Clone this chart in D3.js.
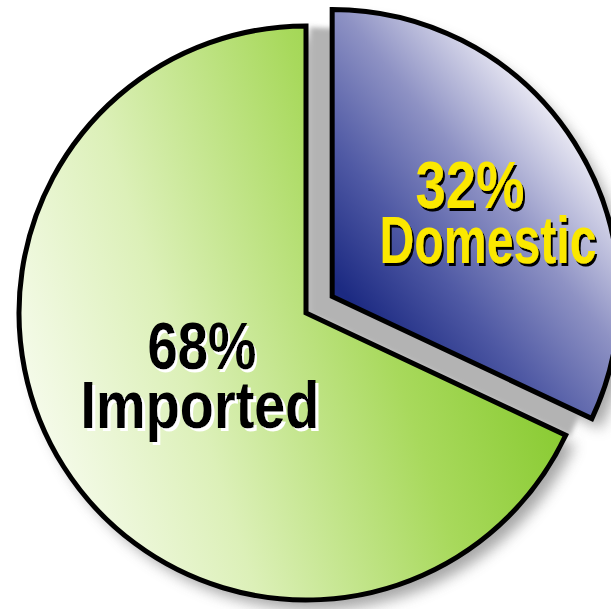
<!DOCTYPE html>
<html>
<head>
<meta charset="utf-8">
<script src="https://cdn.jsdelivr.net/npm/d3@7"></script>
<style>
  html, body { margin: 0; padding: 0; background: #fff; }
  svg { display: block; }
</style>
</head>
<body>
<div id="chart"></div>
<script>
const categories = ["Domestic", "Imported"];
const values = [32, 68];
const pctLabels = ["32%", "68%"];

const width = 611, height = 609;
const cx = 306, cy = 313, radius = 287;
const explode = 31;

const svg = d3.select("#chart").append("svg")
  .attr("width", width)
  .attr("height", height);

const defs = svg.append("defs");

const pie = d3.pie().sort(null).value(d => d);
const arcs = pie(values);
const arc = d3.arc().innerRadius(0).outerRadius(radius);

function offset(d, i) {
  if (i !== 0) return [0, 0];
  const a = (d.startAngle + d.endAngle) / 2;
  return [Math.sin(a) * explode, -Math.cos(a) * explode];
}

const [bx, by] = offset(arcs[0], 0);

// gradients are given in page pixels, then moved into each slice's own frame
function gradient(id, ox, oy, p1, p2, stops) {
  const g = defs.append("linearGradient")
    .attr("id", id)
    .attr("gradientUnits", "userSpaceOnUse")
    .attr("x1", p1[0] - ox).attr("y1", p1[1] - oy)
    .attr("x2", p2[0] - ox).attr("y2", p2[1] - oy);
  stops.forEach(([o, c]) => g.append("stop").attr("offset", o).attr("stop-color", c));
}

gradient("grad-green", cx, cy, [20, 430], [570, 250], [
  ["0%", "#f8fcf0"], ["30%", "#dcf0b8"], ["65%", "#a8d95c"], ["100%", "#7cc520"]
]);
gradient("grad-blue", cx + bx, cy + by, [350, 300], [570, 120], [
  ["0%", "#1c2a82"], ["30%", "#4f59a4"], ["62%", "#8e92c4"], ["100%", "#f0eff7"]
]);

const blurSoft = defs.append("filter").attr("id", "blur-soft")
  .attr("x", "-20%").attr("y", "-20%").attr("width", "140%").attr("height", "140%");
blurSoft.append("feGaussianBlur").attr("stdDeviation", 7);

const blurHard = defs.append("filter").attr("id", "blur-hard")
  .attr("x", "-20%").attr("y", "-20%").attr("width", "140%").attr("height", "140%");
blurHard.append("feGaussianBlur").attr("stdDeviation", 2.5);

function textShadow(id, color) {
  const f = defs.append("filter").attr("id", id)
    .attr("x", "-10%").attr("y", "-20%").attr("width", "120%").attr("height", "140%");
  f.append("feFlood").attr("flood-color", color).attr("result", "c");
  f.append("feComposite").attr("in", "c").attr("in2", "SourceAlpha").attr("operator", "in").attr("result", "s");
  f.append("feOffset").attr("in", "s").attr("dx", 3).attr("dy", 3).attr("result", "o");
  const m = f.append("feMerge");
  m.append("feMergeNode").attr("in", "o");
  m.append("feMergeNode").attr("in", "SourceGraphic");
}
textShadow("shadow-black", "#000");
textShadow("shadow-white", "#fff");

const fills = ["url(#grad-blue)", "url(#grad-green)"];

const root = svg.append("g").attr("transform", `translate(${cx},${cy})`);

// soft outer shadow
root.append("g")
  .selectAll("path")
  .data(arcs)
  .join("path")
  .attr("d", arc)
  .attr("transform", (d, i) => {
    const [ox, oy] = offset(d, i);
    return `translate(${ox + 9},${oy + 10})`;
  })
  .attr("fill", "#8a8a8a")
  .attr("opacity", 0.75)
  .attr("filter", "url(#blur-soft)");

// depth shadow of the exploded slice, seen in the gap
root.append("path")
  .datum(arcs[0])
  .attr("d", arc)
  .attr("transform", `translate(${bx - 22},${by + 18})`)
  .attr("fill", "#b3b3b3")
  .attr("filter", "url(#blur-hard)");

root.append("g")
  .selectAll("path")
  .data(arcs)
  .join("path")
  .attr("d", arc)
  .attr("transform", (d, i) => {
    const [ox, oy] = offset(d, i);
    return `translate(${ox},${oy})`;
  })
  .attr("fill", (d, i) => fills[i])
  .attr("stroke", "#000")
  .attr("stroke-width", 5)
  .attr("stroke-linejoin", "miter");

// labels: centre x, baseline y, drawn width
const labelSpec = [
  { lines: [pctLabels[0], categories[0]], x: [470, 488], y: [208, 263], w: [109, 217], fill: "#fbe800", filter: "shadow-black" },
  { lines: [pctLabels[1], categories[1]], x: [202, 200], y: [369, 428], w: [109, 239], fill: "#000", filter: "shadow-white" }
];

const labels = svg.append("g");

labelSpec.forEach(s => {
  s.lines.forEach((t, j) => {
    const txt = labels.append("text")
      .attr("text-anchor", "middle")
      .attr("x", 0)
      .attr("y", 0)
      .style("font-family", "'Liberation Sans', Arial, sans-serif")
      .style("font-weight", "bold")
      .style("font-size", "66px")
      .attr("fill", s.fill)
      .attr("filter", `url(#${s.filter})`)
      .text(t);
    const natural = txt.node().getComputedTextLength();
    txt.attr("transform", `translate(${s.x[j]},${s.y[j]}) scale(${s.w[j] / natural},1)`);
  });
});
</script>
</body>
</html>
